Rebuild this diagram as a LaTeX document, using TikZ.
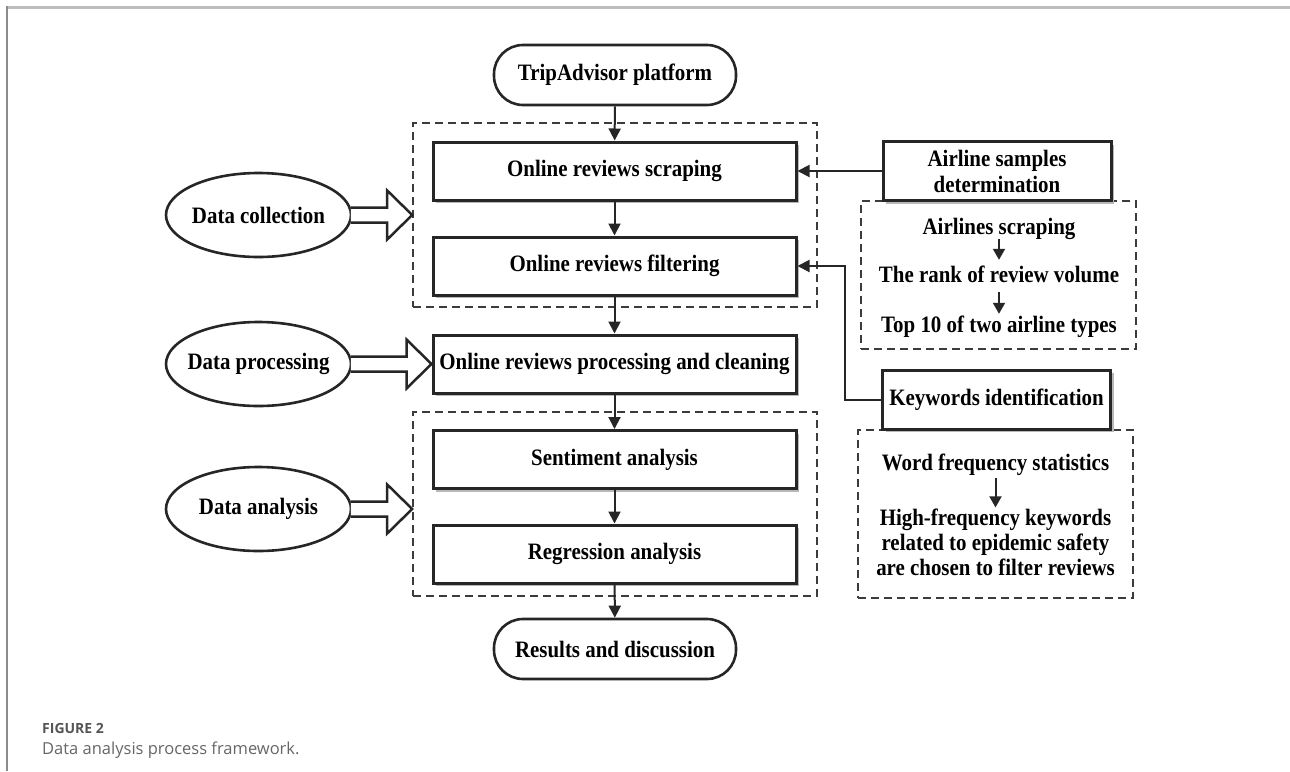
\documentclass[tikz,border=0pt]{standalone}
\usepackage{fontspec}
\setmainfont{Liberation Serif}[FakeStretch=0.89]
\newfontfamily\capfont{Open Sans}
\usetikzlibrary{shapes.geometric,arrows.meta,shadows,calc}
\definecolor{linec}{HTML}{262626}
\definecolor{framec}{HTML}{BDBDBD}
\definecolor{framel}{HTML}{8C8C8C}
\definecolor{capc}{HTML}{555555}
\definecolor{capt}{HTML}{666666}
\begin{document}
\begin{tikzpicture}[x=1pt,y=-1pt,
  every node/.style={font=\fontsize{23.5}{26}\selectfont\bfseries, text=black},
  procbox/.style={draw=linec, line width=3pt, fill=white, rectangle,
    minimum width=363pt, minimum height=58pt, inner sep=2pt,
    drop shadow={shadow xshift=3pt, shadow yshift=-3pt, fill=black!28, opacity=1}},
  sidebox/.style={procbox, minimum width=228pt, minimum height=59pt, align=center},
  termbox/.style={draw=linec, line width=2.6pt, fill=white, rectangle,
    rounded corners=29pt, minimum width=242pt, minimum height=60pt, inner sep=2pt},
  oval/.style={draw=linec, line width=2.6pt, fill=white, ellipse,
    minimum width=185pt, minimum height=84pt, inner sep=0pt},
  groupbox/.style={draw=linec!90, line width=1.6pt, dash pattern=on 8pt off 5pt,
    rectangle, inner sep=0pt},
  plain/.style={inner sep=0pt, text height=16pt, text depth=5pt},
  conn/.style={draw=linec, line width=2pt, -{Triangle[length=12pt,width=12pt]}},
  smallconn/.style={draw=linec, line width=2pt, -{Triangle[length=11pt,width=12pt]}},
  blk/.style={draw=linec, line width=2.5pt, fill=white, line join=miter},
]
\useasboundingbox (0,0) rectangle (1290,771);
% page frame
\draw[framec, line width=3pt] (7,7) -- (1290,7);
\draw[framel, line width=1.6pt] (7,6) -- (7,771);

% dashed group boxes
\node[groupbox, minimum width=404pt, minimum height=184pt] (g1) at (615,215) {};
\node[groupbox, minimum width=404pt, minimum height=184pt] (g2) at (615,504) {};
\node[groupbox, minimum width=275pt, minimum height=148pt] (g3) at (998.5,275) {};
\node[groupbox, minimum width=275pt, minimum height=168pt] (g4) at (995.5,514) {};

% main column
\node[termbox] (trip) at (615,75) {TripAdvisor platform};
\node[procbox] (scrap) at (614.5,171) {Online reviews scraping};
\node[procbox] (filt) at (614.5,266) {Online reviews filtering};
\node[procbox] (proc) at (614.5,364) {Online reviews processing and cleaning};
\node[procbox] (sent) at (614.5,459.5) {Sentiment analysis};
\node[procbox] (regr) at (614.5,554) {Regression analysis};
\node[termbox] (res) at (615,649) {Results and discussion};

% side boxes
\node[sidebox] (air) at (997,171) {Airline samples\\determination};
\node[sidebox] (kw) at (996.5,399.5) {Keywords identification};

% text inside dashed side boxes
\node[plain] (a1) at (999,228.5) {Airlines scraping};
\node[plain] (a2) at (999,276.5) {The rank of review volume};
\node[plain] (a3) at (999,326.5) {Top 10 of two airline types};
\node[plain] (w1) at (995.5,465) {Word frequency statistics};
\node[inner sep=0pt, align=center, font=\fontsize{23.5}{25}\selectfont\bfseries] (w2) at (995.5,542)
  {High-frequency keywords\\related to epidemic safety\\are chosen to filter reviews};

% left stage ellipses
\node[oval] (dc) at (258.5,215) {\makebox[100pt]{Data collection}};
\node[oval] (dp) at (258.5,364) {\makebox[100pt]{Data processing}};
\node[oval] (da) at (258.5,509) {\makebox[100pt]{Data analysis}};

% block arrows
\coordinate (t1) at (g1.west |- dc.east);
\coordinate (t2) at (proc.west |- dp.east);
\coordinate (t3) at (g2.west |- da.east);
\foreach \e/\t in {dc/t1, dp/t2, da/t3}{
  \draw[blk] ($(\e.east)+(-1.5,-7.5)$) -- ($(\t)+(-25,-7.5)$) -- ($(\t)+(-25,-24.5)$)
    -- (\t) -- ($(\t)+(-25,24.5)$) -- ($(\t)+(-25,7.5)$) -- ($(\e.east)+(-1.5,7.5)$);
}

% main connectors
\draw[conn] (trip) -- (scrap);
\draw[conn] (scrap) -- (filt);
\draw[conn] (filt) -- (proc);
\draw[conn] (proc) -- (sent);
\draw[conn] (sent) -- (regr);
\draw[conn] (regr) -- (res);

% side connectors
\draw[conn] (air.west) -- (scrap.east);
\coordinate (kbend) at (845,0);
\draw[conn] (kw.west) -- (kw.west -| kbend) -- (filt.east -| kbend) -- (filt.east);

% small arrows
\draw[smallconn, shorten >=6pt] (a1.south) -- (a2.north);
\draw[smallconn, shorten <=5pt, shorten >=2pt] (a2.south) -- (a3.north);
\draw[smallconn, shorten <=2pt, shorten >=1pt] (w1.south) -- (w2.north);

% caption
\node[anchor=base west, inner sep=0pt, text=capc, font=\capfont\bfseries\fontsize{14}{16}\selectfont] (cap1) at (42,733) {FIGURE 2};
\node[anchor=base west, inner sep=0pt, text=capt, font=\capfont\fontsize{16.5}{18}\selectfont] (cap2) at (42,754) {Data analysis process framework.};
\end{tikzpicture}
\end{document}
